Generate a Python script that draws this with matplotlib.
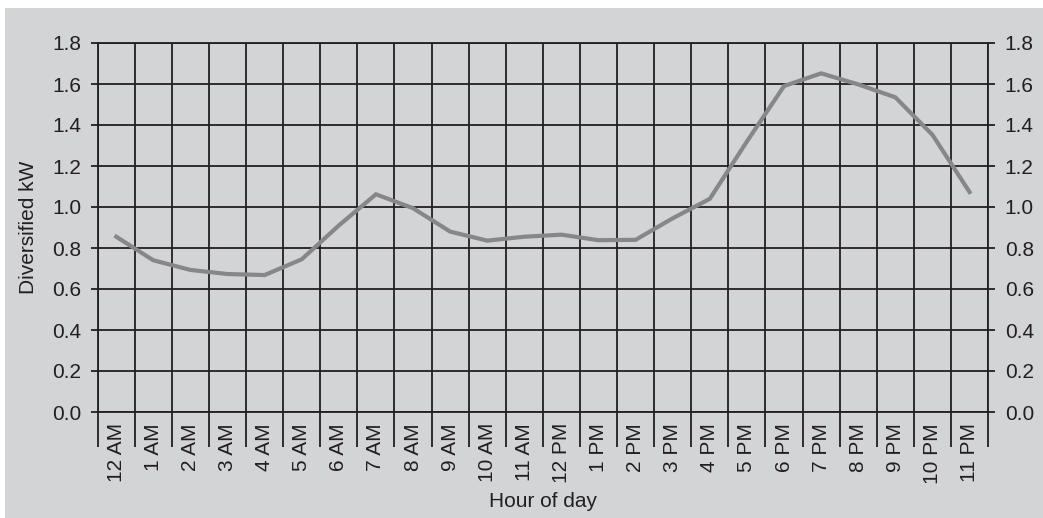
import numpy as np
import matplotlib.pyplot as plt
from matplotlib.patches import Rectangle

plt.rcParams['font.family'] = ['Liberation Sans', 'DejaVu Sans']

hours = ['12 AM', '1 AM', '2 AM', '3 AM', '4 AM', '5 AM', '6 AM', '7 AM',
         '8 AM', '9 AM', '10 AM', '11 AM', '12 PM', '1 PM', '2 PM', '3 PM',
         '4 PM', '5 PM', '6 PM', '7 PM', '8 PM', '9 PM', '10 PM', '11 PM']
load_kw = [0.855, 0.74, 0.693, 0.673, 0.668, 0.745, 0.91, 1.062,
           0.994, 0.88, 0.836, 0.855, 0.865, 0.838, 0.84, 0.945,
           1.04, 1.32, 1.59, 1.652, 1.598, 1.535, 1.352, 1.073]
yticks = [0.0, 0.2, 0.4, 0.6, 0.8, 1.0, 1.2, 1.4, 1.6, 1.8]

bg = '#d3d4d6'
ink = '#231f20'
W, H = 1043, 518
fs = 15

fig = plt.figure(figsize=(W/100, H/100), dpi=100, facecolor='white')
fig.add_artist(Rectangle((5/W, 0), 1, 1 - 8/H, transform=fig.transFigure,
                         facecolor=bg, edgecolor='none', zorder=-10))

ax = fig.add_axes([97.7/W, (H-412)/H, 890.4/W, 369/H])
ax.set_facecolor(bg)

x = np.arange(len(hours))
ax.plot(x, load_kw, color='#878787', lw=3.0, solid_joinstyle='miter', zorder=3)

ax.set_xlim(-0.5, len(hours) - 0.5)
ax.set_ylim(0, 1.8)

# category labels at centres, boundaries as long minor ticks + grid
ax.set_xticks(x)
ax.set_xticklabels(hours, rotation=90, fontsize=fs, color=ink)
ax.tick_params(axis='x', which='major', length=0, pad=8)
ax.set_xticks(np.arange(-0.5, len(hours)), minor=True)
ax.tick_params(axis='x', which='minor', length=25, width=1.3, color=ink, direction='out')
ax.grid(True, axis='x', which='minor', color=ink, lw=1.3)

ax.set_yticks(yticks)
ax.set_yticklabels(['%.1f' % v for v in yticks])
ax.tick_params(axis='y', which='major', length=5, width=1.3, color=ink, direction='out',
               labelsize=fs, labelcolor=ink, pad=7, left=True, right=True,
               labelleft=True, labelright=True)
ax.grid(True, axis='y', which='major', color=ink, lw=1.3)
ax.set_axisbelow(True)

for s in ax.spines.values():
    s.set_color(ink)
    s.set_linewidth(1.3)

ax.set_xlabel('Hour of day', fontsize=fs, color=ink, labelpad=6)
ax.set_ylabel('Diversified kW', fontsize=fs, color=ink, labelpad=10)

fig.savefig('out.png', dpi=100, facecolor='white')
